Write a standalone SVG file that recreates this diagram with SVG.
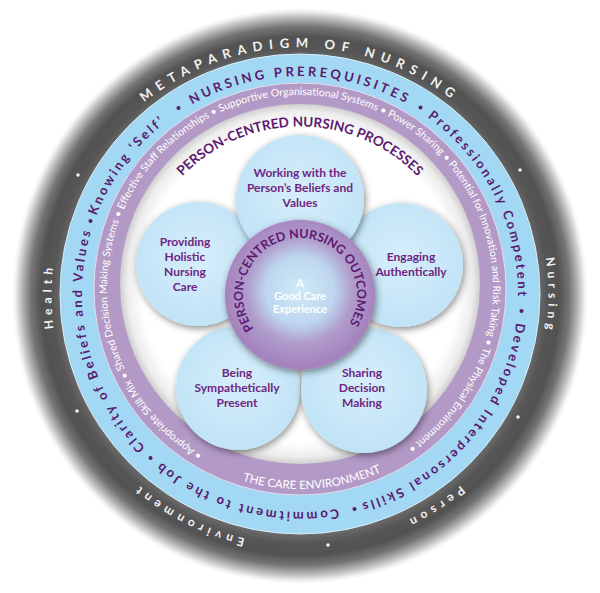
<svg xmlns="http://www.w3.org/2000/svg" width="600" height="593" viewBox="0 0 600 593">
<style>
.dk{font-family:Lato,"Open Sans",sans-serif;font-weight:700;fill:#f2f2f2;font-size:12px;letter-spacing:5px}
.ttl{font-size:13px;letter-spacing:6.5px}
.bl{font-family:Lato,"Open Sans",sans-serif;font-weight:700;fill:#5a1a6c;font-size:13px;letter-spacing:2.6px}
.blc{letter-spacing:3.2px}
.pu{font-family:Lato,"Open Sans",sans-serif;font-weight:400;fill:#ffffff;font-size:10.5px}
.pc{font-family:Lato,"Open Sans",sans-serif;font-weight:700;fill:#5e1a70;font-size:13.5px}
.pt{font-family:Lato,"Open Sans",sans-serif;font-weight:700;fill:#6e2680;font-size:12px;text-anchor:middle}
.ct{font-family:Lato,"Open Sans",sans-serif;font-weight:700;fill:#ffffff;font-size:11px;text-anchor:middle}
.petal{fill:url(#gPetal);filter:url(#sh)}
.dot{fill:#f0f0f0}
.bdot{fill:#5a1a6c}
</style>
<defs>
<radialGradient id="gDark" gradientUnits="userSpaceOnUse" cx="300" cy="296" r="288">
<stop offset="0.825" stop-color="#6c6c6c"/>
<stop offset="0.86" stop-color="#565656"/>
<stop offset="0.9" stop-color="#525252"/>
<stop offset="0.935" stop-color="#747474"/>
<stop offset="0.965" stop-color="#b6b6b6"/>
<stop offset="0.99" stop-color="#f2f2f2"/>
<stop offset="1" stop-color="#ffffff"/>
</radialGradient>
<radialGradient id="gWhite" gradientUnits="userSpaceOnUse" cx="300" cy="284" r="180">
<stop offset="0.88" stop-color="#ffffff"/>
<stop offset="0.96" stop-color="#ededed"/>
<stop offset="1" stop-color="#cfcfcf"/>
</radialGradient>
<radialGradient id="gPetal" cx="50%" cy="45%" r="55%">
<stop offset="0" stop-color="#d6eefb"/>
<stop offset="1" stop-color="#c0e3f6"/>
</radialGradient>
<radialGradient id="gCenter" cx="50%" cy="47%" r="50%">
<stop offset="0" stop-color="#cfe9f8"/>
<stop offset="0.45" stop-color="#bed7ef"/>
<stop offset="0.7" stop-color="#b09dcc"/>
<stop offset="1" stop-color="#a583bd"/>
</radialGradient>
<filter id="sh" x="-30%" y="-30%" width="160%" height="160%">
<feDropShadow dx="1.5" dy="2.5" stdDeviation="3.5" flood-color="#000" flood-opacity="0.45"/>
</filter>
<path id="pDark" d="M300,544.5 A248.5,248.5 0 1 1 300,47.5 A248.5,248.5 0 1 1 300,544.5"/>
<path id="pBlue" d="M300,512 A218,218 0 1 1 300,76 A218,218 0 1 1 300,512"/>
<path id="pPur" d="M300,481 A193,193 0 1 1 300,95 A193,193 0 1 1 300,481"/>
<path id="pCare" d="M99,288 A201,201 0 0 0 501,288"/>
<path id="pProc" d="M300,453.5 A163.5,163.5 0 1 1 300,126.5 A163.5,163.5 0 1 1 300,453.5"/>
<path id="pOut" d="M300,352 A57,57 0 1 1 300,238 A57,57 0 1 1 300,352"/>
</defs>
<rect width="600" height="593" fill="#ffffff"/>

<g id="metaparadigm-ring">
<circle cx="300" cy="296" r="288" fill="url(#gDark)"/>
<g transform="rotate(0 300 296)"><text class="dk ttl"><textPath href="#pDark" startOffset="50%" text-anchor="middle">METAPARADIGM OF NURSING</textPath></text></g>
<g transform="rotate(90 300 296)"><text class="dk"><textPath href="#pDark" startOffset="50%" text-anchor="middle">Nursing</textPath></text></g>
<g transform="rotate(147.4 300 296)"><text class="dk"><textPath href="#pDark" startOffset="50%" text-anchor="middle">Person</textPath></text></g>
<g transform="rotate(207 300 296)"><text class="dk"><textPath href="#pDark" startOffset="50%" text-anchor="middle">Environment</textPath></text></g>
<g transform="rotate(270 300 296)"><text class="dk"><textPath href="#pDark" startOffset="50%" text-anchor="middle">Health</textPath></text></g>
<circle class="dot" cx="520" cy="170" r="1.8"/>
<circle class="dot" cx="518" cy="417" r="1.8"/>
<circle class="dot" cx="328" cy="545" r="1.8"/>
<circle class="dot" cx="77" cy="411" r="1.8"/>
<circle class="dot" cx="78" cy="175" r="1.8"/>
</g>

<g id="prerequisites-ring">
<circle cx="300" cy="294" r="240" fill="#a2d8f3" stroke="#d8eef8" stroke-width="1"/>
<g transform="rotate(0 300 294)"><text class="bl blc"><textPath href="#pBlue" startOffset="50%" text-anchor="middle">NURSING PREREQUISITES</textPath></text></g>
<g transform="rotate(-53.4 300 294)"><text class="bl"><textPath href="#pBlue" startOffset="50%" text-anchor="middle">Knowing ‘Self’</textPath></text></g>
<g transform="rotate(256.2 300 294)"><text class="bl"><textPath href="#pBlue" startOffset="50%" text-anchor="middle">Clarity of Beliefs and Values</textPath></text></g>
<g transform="rotate(195 300 294)"><text class="bl"><textPath href="#pBlue" startOffset="50%" text-anchor="middle">Commitment to the Job</textPath></text></g>
<g transform="rotate(130.9 300 294)"><text class="bl"><textPath href="#pBlue" startOffset="50%" text-anchor="middle">Developed Interpersonal Skills</textPath></text></g>
<g transform="rotate(63.5 300 294)"><text class="bl"><textPath href="#pBlue" startOffset="50%" text-anchor="middle">Professionally Competent</textPath></text></g>
<circle class="bdot" cx="178.5" cy="108" r="2"/>
<circle class="bdot" cx="90.5" cy="221" r="2"/>
<circle class="bdot" cx="150.5" cy="458" r="2"/>
<circle class="bdot" cx="354.5" cy="509" r="2"/>
<circle class="bdot" cx="521.5" cy="311" r="2"/>
<circle class="bdot" cx="420.5" cy="107.5" r="2"/>
</g>

<g id="care-environment-ring">
<circle cx="300" cy="289" r="206" fill="#b39ac6" stroke="#e6dcef" stroke-width="1"/>
<text class="pu"><textPath href="#pPur" startOffset="102.4" textLength="995" lengthAdjust="spacing">• Appropriate Skill Mix • Shared Decision Making Systems • Effective Staff Relationships • Supportive Organisational Systems • Power Sharing • Potential for Innovation and Risk Taking • The Physical Environment •</textPath></text>
<g transform="rotate(-3.6 300 288)"><text class="pu" style="font-size:11.5px"><textPath href="#pCare" startOffset="50%" text-anchor="middle">THE CARE ENVIRONMENT</textPath></text></g>
</g>

<g id="processes-area">
<circle cx="300" cy="284" r="180" fill="url(#gWhite)"/>
<text class="pc"><textPath href="#pProc" startOffset="50%" text-anchor="middle">PERSON-CENTRED NURSING PROCESSES</textPath></text>
</g>

<g id="petal-sympathetically-present">
<circle class="petal" cx="238" cy="388" r="62"/>
<text class="pt"><tspan x="237" y="377">Being</tspan><tspan x="237" dy="15">Sympathetically</tspan><tspan x="237" dy="15">Present</tspan></text>
</g>
<g id="petal-sharing-decision-making">
<circle class="petal" cx="364" cy="390" r="63"/>
<text class="pt"><tspan x="362" y="377">Sharing</tspan><tspan x="362" dy="15">Decision</tspan><tspan x="362" dy="15">Making</tspan></text>
</g>
<g id="petal-holistic-care">
<circle class="petal" cx="198" cy="264" r="62"/>
<text class="pt"><tspan x="185" y="246">Providing</tspan><tspan x="185" dy="15">Holistic</tspan><tspan x="185" dy="15">Nursing</tspan><tspan x="185" dy="14.5">Care</tspan></text>
</g>
<g id="petal-engaging-authentically">
<circle class="petal" cx="401" cy="265" r="62"/>
<text class="pt"><tspan x="411" y="261">Engaging</tspan><tspan x="411" dy="15">Authentically</tspan></text>
</g>
<g id="petal-beliefs-values">
<circle class="petal" cx="300" cy="199" r="64"/>
<text class="pt"><tspan x="300" y="177">Working with the</tspan><tspan x="300" dy="15">Person’s Beliefs and</tspan><tspan x="300" dy="15">Values</tspan></text>
</g>

<g id="outcomes-center">
<circle cx="300" cy="295" r="75" fill="url(#gCenter)" filter="url(#sh)"/>
<g transform="rotate(-3 300 295)"><text class="pc" style="font-size:12.5px"><textPath href="#pOut" startOffset="50%" text-anchor="middle">PERSON-CENTRED NURSING OUTCOMES</textPath></text></g>
<text class="ct"><tspan x="300" y="287">A</tspan><tspan x="300" dy="13">Good Care</tspan><tspan x="300" dy="13">Experience</tspan></text>
</g>
</svg>
